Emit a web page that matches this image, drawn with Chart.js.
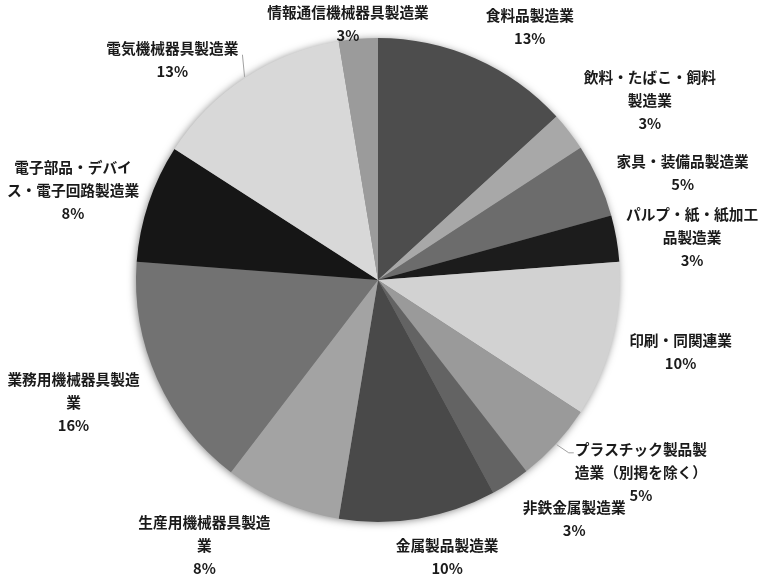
<!DOCTYPE html>
<html>
<head>
<meta charset="utf-8">
<script src="https://cdn.jsdelivr.net/npm/chart.js@4"></script>
<style>
  html, body { margin: 0; padding: 0; background: #fff; }
  #wrap { width: 759px; height: 574px; }
</style>
</head>
<body>
<div id="wrap"><canvas id="myChart"></canvas></div>
<script>
// categories (label text split into lines as printed)
const categories = [
  ["食料品製造業"],
  ["飲料・たばこ・飼料", "製造業"],
  ["家具・装備品製造業"],
  ["パルプ・紙・紙加工", "品製造業"],
  ["印刷・同関連業"],
  ["プラスチック製品製", "造業（別掲を除く）"],
  ["非鉄金属製造業"],
  ["金属製品製造業"],
  ["生産用機械器具製造", "業"],
  ["業務用機械器具製造", "業"],
  ["電子部品・デバイ", "ス・電子回路製造業"],
  ["電気機械器具製造業"],
  ["情報通信機械器具製造業"],
]
// slice shares as measured from the pie
const shares = [13.2, 2.6, 4.9, 3.1, 10.4, 5.3, 2.6, 10.5, 7.8, 15.8, 7.9, 13.3, 2.6]
// percentages as printed on the labels
const percentLabels = ["13%", "3%", "5%", "3%", "10%", "5%", "3%", "10%", "8%", "16%", "8%", "13%", "3%"]

const sliceColors = [
  "#4d4d4d", "#a8a8a8", "#6c6c6c", "#1c1c1c", "#d2d2d2", "#9a9a9a", "#636363",
  "#494949", "#a3a3a3", "#727272", "#161616", "#d8d8d8", "#9b9b9b",
]

// label layout: angle shift (deg) from slice middle, distance beyond the rim (px)
const labelShift = [7.2, 4.3, 4.9, 2.1, -1.0, -6.4, -6.3, -4.5, 9.8, 2.3, -2.1, -9.8, -2.0]
const labelGap = [53, 84, 81, 75, 69, 84, 67, 43, 75, 86, 76, 59, 16]
// which labels get a leader line, and from which side of the text
const leaderSide = [null, null, null, null, null, "left", null, null, null, null, null, "right", null]

const FONT = 'bold 14.7px "Noto Sans CJK JP", "Noto Sans", sans-serif'
const LINE_H = 23

const pieShadow = {
  id: "pieShadow",
  beforeDatasetsDraw(chart) {
    const arc = chart.getDatasetMeta(0).data[0]
    if (!arc) return
    const ctx = chart.ctx
    ctx.save()
    ctx.beginPath()
    ctx.arc(arc.x, arc.y, arc.outerRadius - 1, 0, Math.PI * 2)
    ctx.shadowColor = "rgba(0,0,0,0.55)"
    ctx.shadowBlur = 8
    ctx.shadowOffsetX = -1
    ctx.shadowOffsetY = 1
    ctx.fillStyle = "#888"
    ctx.fill()
    ctx.restore()
  },
}

const outsideLabels = {
  id: "outsideLabels",
  afterDatasetsDraw(chart) {
    const ctx = chart.ctx
    const arcs = chart.getDatasetMeta(0).data
    ctx.save()
    ctx.font = FONT
    ctx.fillStyle = "#1a1a1a"
    ctx.textAlign = "center"
    ctx.textBaseline = "middle"
    arcs.forEach((arc, i) => {
      const mid = (arc.startAngle + arc.endAngle) / 2
      const a = mid + (labelShift[i] * Math.PI) / 180
      const d = arc.outerRadius + labelGap[i]
      const cx = arc.x + Math.cos(a) * d
      const cy = arc.y + Math.sin(a) * d
      const lines = [...categories[i], percentLabels[i]]
      const top = cy - ((lines.length - 1) * LINE_H) / 2
      lines.forEach((t, k) => ctx.fillText(t, cx, top + k * LINE_H))

      const side = leaderSide[i]
      if (side) {
        const w = ctx.measureText(lines[0]).width
        const sx = arc.x + Math.cos(mid) * (arc.outerRadius + 1)
        const sy = arc.y + Math.sin(mid) * (arc.outerRadius + 1)
        ctx.strokeStyle = "#a0a0a0"
        ctx.lineWidth = 1
        ctx.beginPath()
        ctx.moveTo(sx, sy)
        if (side === "left") {
          const left = cx - w / 2
          ctx.lineTo(left - 6, top + 3)
          ctx.lineTo(left - 1, top + 3)
        } else {
          ctx.lineTo(cx + w / 2 + 4, top + 6)
        }
        ctx.stroke()
      }
    })
    ctx.restore()
  },
}

new Chart(document.getElementById("myChart"), {
  type: "pie",
  data: {
    labels: categories.map((c) => c.join("")),
    datasets: [
      {
        data: shares,
        backgroundColor: sliceColors,
        borderWidth: 0,
      },
    ],
  },
  options: {
    responsive: true,
    maintainAspectRatio: false,
    animation: false,
    layout: { padding: { top: 38, bottom: 52, left: 136, right: 139 } },
    plugins: {
      legend: { display: false },
      tooltip: { enabled: false },
    },
  },
  plugins: [pieShadow, outsideLabels],
})
</script>
</body>
</html>
